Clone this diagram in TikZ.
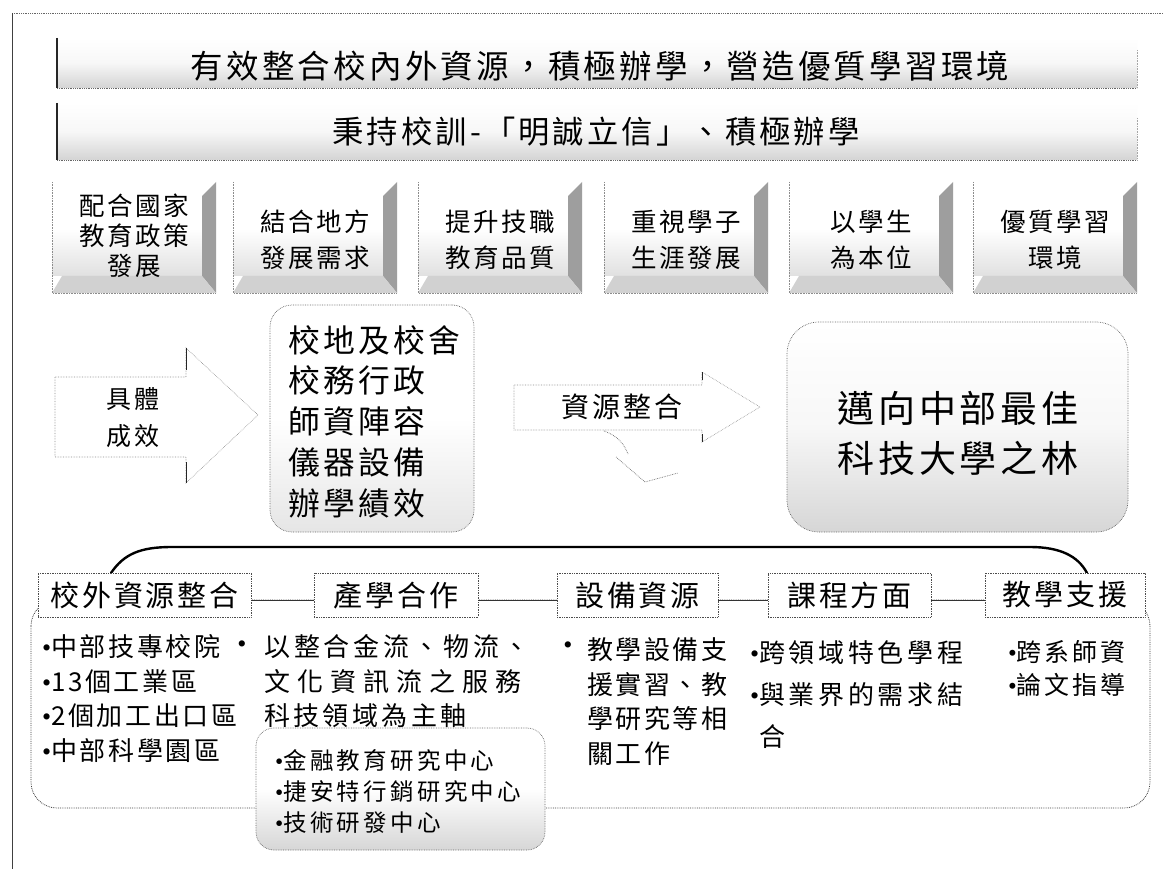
\documentclass[tikz,border=0pt]{standalone}
\usepackage{fontspec}
\newfontfamily\cjk[LetterSpace=10]{Noto Sans CJK TC}
\newfontfamily\bulfont{Liberation Serif}
\newcommand\bl{{\bulfont\char"2022}}
\newcommand\fsz[2]{\fontsize{#1}{#2}\selectfont}
\newcommand\ls[2]{{\addfontfeature{LetterSpace=#1}#2}}
\tikzset{
  frameline/.style={black!75, line width=0.8pt},
  bannertext/.style={inner sep=0pt, text=black},
  boxedge/.style={black!45, densely dotted, line width=0.6pt},
  boxtext/.style={align=center, inner sep=0pt},
  dotbox/.style={draw=black!60, densely dotted, line width=0.7pt},
  arrowedge/.style={draw=black!45, densely dotted, line width=0.6pt, fill=white},
  hdr/.style={draw=black!70, densely dotted, line width=0.7pt, fill=white, inner sep=0pt,
              minimum height=44pt, font={\cjk\fsz{29}{34}}},
  conn/.style={black!80, line width=0.6pt},
  bullettext/.style={align=left, inner sep=0pt, font={\cjk\fsz{26}{34.5}}},
}
\newcommand\bvbox[5]{%
  \shade[top color=white, bottom color=black!12, middle color=white] (#2,182) rectangle ({#2+150},276);
  \fill[black!38] ({#2+164},182) -- ({#2+164},293) -- ({#2+150},276) -- ({#2+150},196) -- cycle;
  \fill[black!18] (#2,293) -- ({#2+164},293) -- ({#2+150},276) -- ({#2+10},276) -- cycle;
  \draw[boxedge] (#2,182) -- (#2,293) -- ({#2+164},293);
  \node[boxtext, font={\cjk\fsz{25.5}{#4}}] (#1) at ({#2+82},#5) {#3};
}
\begin{document}
\begin{tikzpicture}[x=1pt, y=-1pt]
\useasboundingbox (0,0) rectangle (1163,869);
\fill[white] (0,0) rectangle (1163,869);

% outer frame
\draw[black!60, densely dotted, line width=0.8pt] (12,13) -- (1163,13);
\draw[frameline] (12,13) -- (12,869);

% banner 1
\shade[top color=white, bottom color=black!17, middle color=black!3] (57,38) rectangle (1137,88);
\draw[black!85, line width=1.4pt] (57,38) -- (57,88);
\draw[black!60, densely dotted, line width=0.8pt] (57,88) -- (1137,88);
\draw[black!35, densely dotted, line width=0.6pt] (1137,50) -- (1137,88);
\node[bannertext, font={\cjk\fsz{32.5}{36}}] (b1) at (600,66) {有效整合校內外資源，積極辦學，營造優質學習環境};

% banner 2
\shade[top color=white, bottom color=black!17, middle color=black!3] (57,103) rectangle (1137,160);
\draw[black!85, line width=1.4pt] (57,103) -- (57,160);
\draw[black!60, densely dotted, line width=0.8pt] (57,160) -- (1137,160);
\draw[black!35, densely dotted, line width=0.6pt] (1137,118) -- (1137,160);
\node[bannertext, font={\cjk\fsz{31.3}{36}}] (b2) at (596,132) {秉持校訓-「明誠立信」、積極辦學};

% six bevel boxes
\bvbox{p1}{52}{配合國家\\教育政策\\發展}{30}{236}
\bvbox{p2}{233}{結合地方\\發展需求}{36}{240}
\bvbox{p3}{418}{提升技職\\教育品質}{36}{240}
\bvbox{p4}{604}{重視學子\\生涯發展}{36}{240}
\bvbox{p5}{789}{以學生\\為本位}{36}{240}
\bvbox{p6}{973}{優質學習\\環境}{36}{240}

% left block arrow
\draw[arrowedge] (55,377) -- (186,377) -- (186,348) -- (258,415) -- (186,483) -- (186,457) -- (55,457) -- cycle;
\draw[black!85, line width=0.9pt] (186,348) -- (186,370) (186,462) -- (186,483);
\node[boxtext, font={\cjk\fsz{25}{37}}] (concrete) at (133,418) {具體\\成效};

% central resources box
\node[dotbox, rounded corners=22pt, minimum width=204pt, minimum height=227pt,
      top color=white, bottom color=black!10, middle color=white] (res) at (372,418.5) {};
\node[align=left, inner sep=0pt, font={\cjk\fsz{31.8}{40.7}}] (restext) at (374,421.5)
  {校地及校舍\\校務行政\\師資陣容\\儀器設備\\辦學績效};

% right block arrow
\draw[arrowedge] (514,385) -- (702,385) -- (702,372) -- (760,407) -- (702,442) -- (702,430) -- (514,430) -- cycle;
\draw[black!85, line width=0.9pt] (702,372) -- (702,380) (702,434) -- (702,442);
\draw[black!60, densely dotted, line width=0.7pt] (604,431) .. controls (618,436) and (624,444) .. (628,454);
\draw[black!55, densely dotted, line width=0.7pt] (616,457) -- (645,482) -- (678,473);
\node[font={\cjk\fsz{28}{34}}, inner sep=0pt] (integ) at (622,407) {資源整合};

% goal box
\node[dotbox, rounded corners=32pt, minimum width=341pt, minimum height=210pt,
      top color=white, bottom color=black!16, middle color=black!3] (goal) at (957.5,427) {};
\node[align=center, inner sep=0pt, font={\cjk\fsz{37}{50}}] (goaltext) at (958,433)
  {邁向中部最佳\\科技大學之林};

% bracket
\draw[black, line width=2.4pt, line cap=round] (111,573) .. controls (124,554) and (140,547) .. (172,547)
  -- (1030,547) .. controls (1060,547) and (1078,556) .. (1087,573);

% container
\draw[black!75, densely dotted, line width=0.8pt, rounded corners=26pt] (31,600) rectangle (1150,808);

% headers
\node[hdr, minimum width=213pt] (h1) at (144.5,595) {校外資源整合};
\node[hdr, minimum width=164pt] (h2) at (396,595) {產學合作};
\node[hdr, minimum width=161pt] (h3) at (637.5,595) {設備資源};
\node[hdr, minimum width=163pt] (h4) at (849.5,595) {課程方面};
\node[hdr, minimum width=160pt] (h5) at (1065,595) {教學支援};
\draw[conn] ([yshift=-5pt]h1.east) -- ([yshift=-5pt]h2.west);
\draw[conn] ([yshift=-5pt]h2.east) -- ([yshift=-5pt]h3.west);
\draw[conn] ([yshift=-5pt]h3.east) -- ([yshift=-5pt]h4.west);
\draw[conn] ([yshift=-5pt]h4.east) -- ([yshift=-5pt]h5.west);

% column 1
\node[bullettext, anchor=west] (c1) at (42,698.5)
  {\bl 中部技專校院\\\bl 13個工業區\\\bl 2個加工出口區\\\bl 中部科學園區};
% column 2
\node[bullettext] (c2b) at (242,647) {\bl};
\node[bullettext, anchor=west] (c2) at (264,681.5)
  {\ls{15}{以整合金流、物流、}\\\ls{27}{文化資訊流之服務}\\\ls{13}{科技領域為主軸}};
\node[dotbox, rounded corners=18pt, minimum width=289pt, minimum height=122pt,
      top color=white, bottom color=black!16, middle color=white] (centers) at (400.5,789) {};
\node[align=left, inner sep=0pt, anchor=west, font={\cjk\fsz{23.5}{31}}] (centerstext) at (275,791)
  {\ls{14}{\bl 金融教育研究中心}\\\ls{14}{\bl 捷安特行銷研究中心}\\\ls{14}{\bl 技術研發中心}};
% column 3
\node[bullettext] (c3b) at (568,648) {\bl};
\node[bullettext, anchor=west] (c3) at (587,701.5)
  {教學設備支\\援實習、教\\學研究等相\\關工作};
% column 4
\node[bullettext, anchor=west, font={\cjk\fsz{26}{42}}] (c4) at (750,694)
  {\ls{14}{\bl 跨領域特色學程}\\\ls{14}{\bl 與業界的需求結}\\\phantom{\bl}\ls{14}{合}};
% column 5
\node[bullettext, anchor=west, font={\cjk\fsz{25}{33}}] (c5) at (1008,668.5)
  {\ls{12}{\bl 跨系師資}\\\ls{12}{\bl 論文指導}};
\end{tikzpicture}
\end{document}
